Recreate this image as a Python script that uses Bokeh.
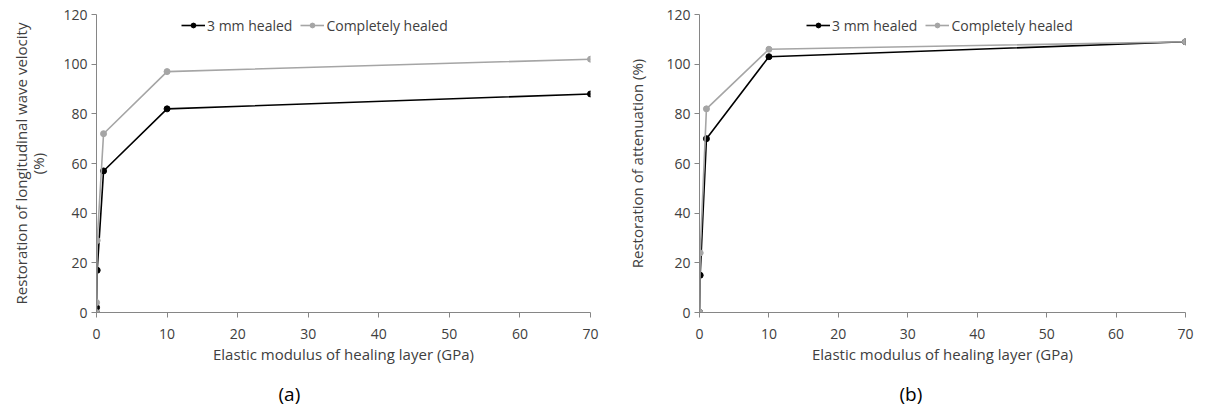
from bokeh.plotting import figure
from bokeh.models import Legend, LegendItem, Title, Range1d, FixedTicker
from bokeh.layouts import row
from bokeh.embed import file_html
from bokeh.resources import INLINE

# Data
x_gpa = [0.001, 0.01, 0.1, 1, 10, 70]
vel_3mm = [0, 2, 17, 57, 82, 88]
vel_full = [0, 4, 29, 72, 97, 102]
att_3mm = [0, 0, 15, 70, 103, 109]
att_full = [0, 0, 24, 82, 106, 109]
x_ticks = [0, 10, 20, 30, 40, 50, 60, 70]
y_ticks = [0, 20, 40, 60, 80, 100, 120]
series_names = ["3 mm healed", "Completely healed"]
x_title = "Elastic modulus of healing layer (GPa)"

FONT = "Open Sans"
TXT = "#404040"
AX = "#868686"
BLACK = "#000000"
GRAY = "#a5a5a5"


def make_panel(y1, y2, ylabel, tag, width, bl, br, legend_x, ylab_standoff, tag_offset):
    p = figure(width=width, height=419, output_backend="svg", toolbar_location=None,
               x_range=Range1d(0, 70), y_range=Range1d(0, 120),
               min_border_left=bl, min_border_right=br, min_border_top=14, min_border_bottom=107)
    p.outline_line_color = None
    p.xgrid.visible = False
    p.ygrid.visible = False
    for ax, ticks in ((p.xaxis[0], x_ticks), (p.yaxis[0], y_ticks)):
        ax.ticker = FixedTicker(ticks=ticks)
        ax.axis_line_color = AX
        ax.major_tick_line_color = AX
        ax.minor_tick_line_color = None
        ax.major_tick_in = 0
        ax.major_tick_out = 5
        ax.major_label_text_font = FONT
        ax.major_label_text_font_size = "14px"
        ax.major_label_text_color = TXT
        ax.axis_label_text_font = FONT
        ax.axis_label_text_font_size = "15px"
        ax.axis_label_text_font_style = "normal"
        ax.axis_label_text_color = TXT
    p.xaxis.axis_label = x_title
    p.xaxis.major_label_standoff = 11
    p.xaxis.axis_label_standoff = 2
    p.yaxis.axis_label = ylabel
    p.yaxis.axis_label_text_line_height = 0.85
    p.yaxis.major_label_standoff = 4
    p.yaxis.axis_label_standoff = ylab_standoff

    l1 = p.line(x_gpa, y1, line_color=BLACK, line_width=1.6)
    s1 = p.scatter(x_gpa, y1, size=6, fill_color=BLACK, line_color=BLACK)
    l2 = p.line(x_gpa, y2, line_color=GRAY, line_width=1.6)
    s2 = p.scatter(x_gpa, y2, size=6, fill_color=GRAY, line_color=GRAY)

    leg = Legend(items=[LegendItem(label=series_names[0], renderers=[l1, s1]),
                        LegendItem(label=series_names[1], renderers=[l2, s2])],
                 orientation="horizontal", location=(legend_x, 277),
                 padding=0, margin=0, spacing=8, glyph_width=24, glyph_height=12,
                 label_standoff=2, label_height=20,
                 label_text_font=FONT, label_text_font_size="14px", label_text_color=TXT,
                 background_fill_alpha=0, border_line_color=None)
    p.add_layout(leg, "center")

    t = Title(text=tag, align="left", offset=tag_offset, text_font=FONT,
              text_font_size="19px", text_font_style="normal", text_color=BLACK, standoff=25)
    p.add_layout(t, "below")
    return p


pa = make_panel(vel_3mm, vel_full, "Restoration of longitudinal wave velocity\n(%)", "(a)",
                614, 96, 24, 85, 12, 182)
pb = make_panel(att_3mm, att_full, "Restoration of attenuation (%)", "(b)",
                612, 85, 41, 107, 16, 200)

layout = row(pa, pb)
open("out.html", "w").write(file_html(layout, INLINE))
